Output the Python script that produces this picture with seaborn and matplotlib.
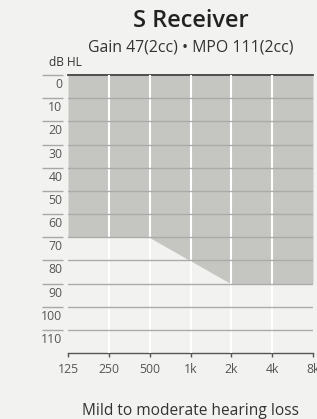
import matplotlib.pyplot as plt
import seaborn as sns

# fitting range of the receiver (upper limit of hearing loss in dB HL)
freqs = [125, 250, 500, 1000, 2000, 4000, 8000]
freq_labels = ["125", "250", "500", "1k", "2k", "4k", "8k"]
fit_limit = [70, 70, 70, 80, 90, 90, 90]
db_levels = [0, 10, 20, 30, 40, 50, 60, 70, 80, 90, 100, 110]

BG = "#f2f2f0"
FILL = "#c5c5c1"
TEXT = "#555555"

sns.set_theme(style="white")
plt.rcParams["font.family"] = ["Open Sans", "DejaVu Sans"]

fig = plt.figure(figsize=(3.17, 4.19), dpi=100, facecolor=BG)
ax = fig.add_axes([68 / 317, 66 / 419, 245 / 317, 278 / 419])
ax.set_facecolor(BG)

ax.fill_between(freqs, 0, fit_limit, color=FILL, lw=0, zorder=1)
sns.lineplot(x=freqs, y=fit_limit, color=FILL, lw=0.8, ax=ax, zorder=1)

ax.set_xscale("log", base=2)
ax.set_xlim(125, 8000)
ax.set_ylim(120, 0)

# x axis
ax.set_xticks(freqs)
ax.set_xticklabels(freq_labels)
ax.xaxis.set_minor_locator(plt.NullLocator())
ax.tick_params(axis="x", direction="out", length=3, width=1, color=TEXT,
               labelsize=8.8, labelcolor=TEXT, pad=4, bottom=True)

# y axis: long outward ticks, labels sit in the band below each tick
ax.set_yticks(db_levels)
ax.set_yticks([v + 3.5 for v in db_levels], minor=True)
ax.set_yticklabels([str(v) for v in db_levels], minor=True)
ax.tick_params(axis="y", which="major", direction="out", length=15, width=1,
               color="#a8a8a8", labelleft=False, left=True)
ax.tick_params(axis="y", which="minor", length=0, labelsize=8.8,
               labelcolor=TEXT, pad=0.5, left=True)
ax.yaxis.get_major_ticks()[0].tick1line.set_color("#444444")

ax.spines["left"].set_position(("outward", 3.6))
ax.spines["left"].set_visible(False)
ax.spines["right"].set_visible(False)
ax.spines["top"].set_color("#333333")
ax.spines["top"].set_linewidth(1.2)
ax.spines["bottom"].set_color(TEXT)
ax.spines["bottom"].set_linewidth(1)

# grid: white verticals, grey horizontals, drawn over the fill
ax.set_axisbelow(False)
ax.grid(True, axis="x", color="white", lw=1.5)
ax.grid(True, axis="y", which="major", color="#ababab", lw=1)
xg = ax.get_xgridlines()
xg[0].set_visible(False)
xg[-1].set_visible(False)
ax.get_ygridlines()[0].set_visible(False)

fig.text(191 / 317, 1 - 21 / 419, "S Receiver", ha="center", va="center",
         fontsize=17, fontweight="semibold", color="#222222")
fig.text(191 / 317, 1 - 47 / 419, "Gain 47(2cc) \u2022 MPO 111(2cc)",
         ha="center", va="center", fontsize=11.4, color="#333333")
fig.text(49 / 317, 1 - 62 / 419, "dB HL", ha="left", va="center",
         fontsize=8.6, color="#333333")
fig.text(191 / 317, 1 - 411 / 419, "Mild to moderate hearing loss",
         ha="center", va="center", fontsize=11.2, color="#333333")

fig.savefig("out.png", dpi=100, facecolor=BG)
